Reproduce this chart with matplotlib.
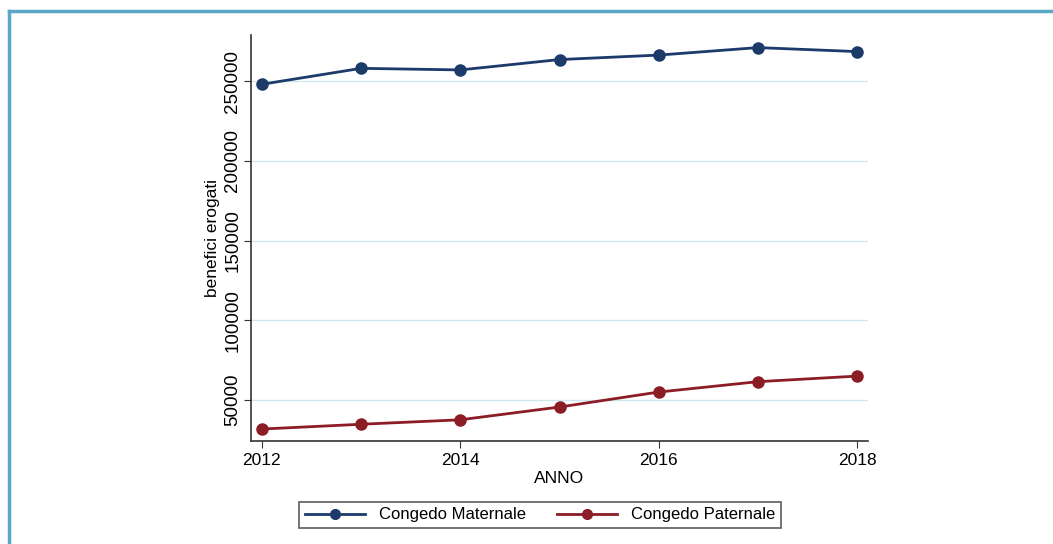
import matplotlib.pyplot as plt
from matplotlib.lines import Line2D

plt.rcParams['font.family'] = ['Liberation Sans', 'DejaVu Sans']

anni = [2012, 2013, 2014, 2015, 2016, 2017, 2018]
maternale = [248000, 258000, 257000, 263500, 266300, 271000, 268500]
paternale = [31800, 34800, 37600, 45600, 55000, 61500, 65000]
y_ticks = [50000, 100000, 150000, 200000, 250000]
x_ticks = [2012, 2014, 2016, 2018]

col_mat = '#1c3a6a'
col_pat = '#8c1c26'
col_grid = '#cfe8ee'
col_frame = '#5aa7c6'

fig = plt.figure(figsize=(10.53, 5.44), dpi=100)
ax = fig.add_axes([251/1053, 1 - 441/544, (868-251)/1053, (441-35)/544])

ax.plot(anni, maternale, color=col_mat, lw=2, marker='o', ms=8, label='Congedo Maternale')
ax.plot(anni, paternale, color=col_pat, lw=2, marker='o', ms=8, label='Congedo Paternale')

ax.set_xlim(2011.89, 2018.11)
ax.set_ylim(24300, 278900)
ax.set_xticks(x_ticks)
ax.set_yticks(y_ticks)
ax.set_yticklabels([str(v) for v in y_ticks], rotation=90, va='center')
ax.tick_params(axis='x', labelsize=12.5, length=5, color='#333333')
ax.tick_params(axis='y', labelsize=13.5, length=5, color='#333333', pad=2)
ax.yaxis.grid(True, color=col_grid, lw=1)
ax.set_axisbelow(True)
for s in ['top', 'right']:
    ax.spines[s].set_visible(False)
for s in ['left', 'bottom']:
    ax.spines[s].set_color('#333333')
    ax.spines[s].set_linewidth(1.2)

ax.set_xlabel('ANNO', fontsize=12.5, labelpad=2)
ax.set_ylabel('benefici erogati', fontsize=12.5, labelpad=3)

handles = [Line2D([], [], color=col_mat, lw=2, marker='o', ms=7),
           Line2D([], [], color=col_pat, lw=2, marker='o', ms=7)]
leg = fig.legend(handles, ['Congedo Maternale', 'Congedo Paternale'],
                 loc='center', bbox_to_anchor=(540/1053, 1 - 515/544), ncol=2,
                 fontsize=12, frameon=True, fancybox=False, edgecolor='#333333',
                 handlelength=3.6, columnspacing=1.9, borderpad=0.35, handletextpad=0.8)
leg.get_frame().set_linewidth(1.2)

# cornice esterna (solo lati superiore e sinistro visibili)
fig.add_artist(Line2D([9/1053, 1], [1 - 10.5/544, 1 - 10.5/544], color=col_frame, lw=2.5))
fig.add_artist(Line2D([9/1053, 9/1053], [0, 1 - 10.5/544], color=col_frame, lw=2.5))

fig.savefig('out.png', dpi=100)
